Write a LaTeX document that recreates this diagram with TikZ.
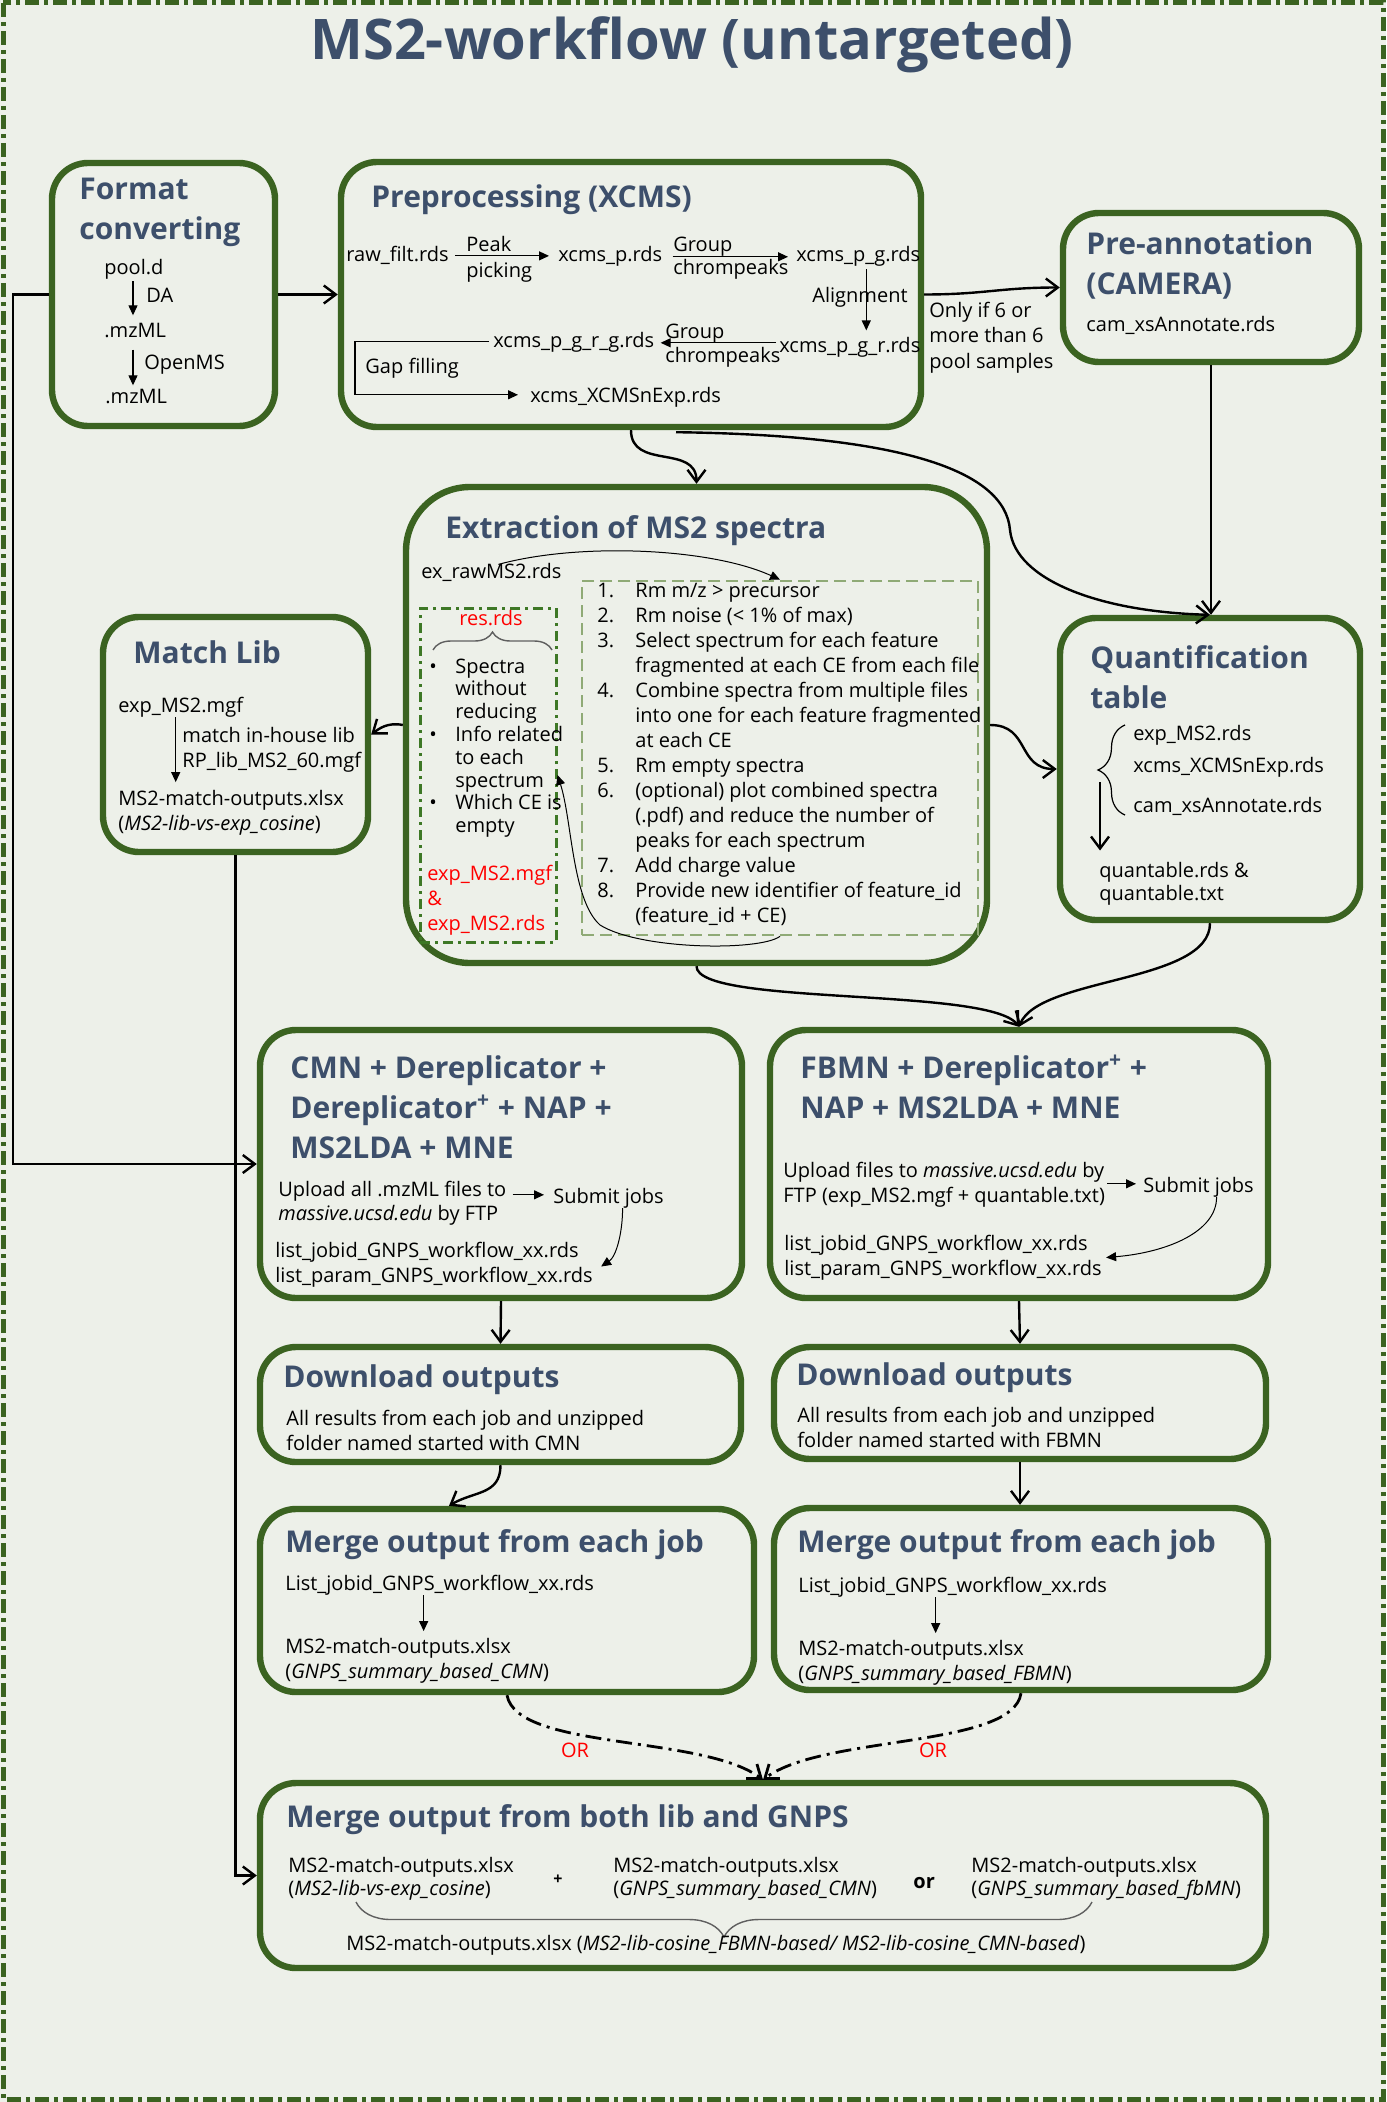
\documentclass[tikz,border=0pt]{standalone}
\usepackage{fontspec}
\setmainfont{Open Sans}
\usepackage{graphicx}
\usetikzlibrary{arrows.meta,fit,decorations.pathreplacing,calc}
\definecolor{bg}{RGB}{237,240,233}
\definecolor{boxgreen}{RGB}{59,99,33}
\definecolor{slate}{RGB}{61,79,107}
\definecolor{resgreen}{RGB}{62,120,38}
\definecolor{listgreen}{RGB}{143,170,118}
\definecolor{bracegrey}{RGB}{95,95,95}
\definecolor{redtxt}{RGB}{255,0,0}
\newcommand{\mlines}[1]{\begin{tabular}[t]{@{}l@{}}#1\end{tabular}}
\tikzset{
  box/.style={draw=boxgreen, line width=3.2pt, rounded corners=18pt, inner sep=0pt},
  ttl/.style={anchor=base west, inner sep=0pt, font=\fontsize{15}{20}\selectfont\bfseries, text=slate},
  txt/.style={anchor=base west, inner sep=0pt, font=\fontsize{10}{12.5}\selectfont},
  conn/.style={line width=1.2pt, -{Straight Barb[length=6pt,width=9pt]}},
  fine/.style={line width=0.6pt, -{Triangle[length=5pt,width=4.5pt]}},
  finecurve/.style={line width=0.5pt, -{Triangle[length=5pt,width=4.5pt]}},
  orline/.style={line width=1.4pt, dash pattern=on 8pt off 3pt on 1.5pt off 3pt, -{Straight Barb[length=6pt,width=9pt]}},
  brc/.style={draw=bracegrey, line width=0.7pt, decorate, decoration={brace, amplitude=#1}},
}
\begin{document}
\begin{tikzpicture}[x=0.5pt,y=-0.5pt]
\useasboundingbox (0,0) rectangle (1386,2102);
\path[fill=bg] (0,0) rectangle (1386,2102);
\draw[boxgreen, line width=2.5pt, dash pattern=on 7pt off 2.5pt on 2pt off 2.5pt] (3,3) rectangle (1383,2099);

\node[anchor=base, inner sep=0pt, font=\fontsize{28}{32}\selectfont\bfseries, text=slate] (title) at (692,60) {MS2-workflow (untargeted)};

% boxes
\node[box, fit={(52,163) (275,426)}] (fc) {};
\node[box, fit={(341,162) (921,427)}] (pre) {};
\node[box, fit={(1063,213) (1359,362)}] (ann) {};
\node[box, rounded corners=32pt, fit={(406,487) (987,963)}] (ext) {};
\node[box, fit={(103,617) (368,852)}] (lib) {};
\node[box, fit={(1060,618) (1360,920)}] (quant) {};
\node[box, fit={(260,1030) (742,1298)}] (cmn) {};
\node[box, fit={(770,1030) (1268,1298)}] (fbmn) {};
\node[box, fit={(260,1347) (741,1462)}] (dlc) {};
\node[box, fit={(774,1347) (1266,1459)}] (dlf) {};
\node[box, fit={(260,1509) (754,1692)}] (mgc) {};
\node[box, fit={(774,1508) (1268,1690)}] (mgf) {};
\node[box, fit={(260,1783) (1266,1968)}] (mgb) {};

% Format converting
\node[ttl] (fct) at (79,200) {\mlines{Format\\converting}};
\node[txt] (fc1) at (104,275) {pool.d};
\node[txt] (fc2) at (104,338) {.mzML};
\node[txt] (fc3) at (105,403) {.mzML};
\node[txt] (fcda) at (146,303) {DA};
\node[txt] (fcom) at (144,370) {OpenMS};
\coordinate (fcx) at (133,0);
\draw[fine] ($(fc1.south -| fcx)+(0,1)$) -- ($(fc2.north -| fcx)+(0,-8)$);
\draw[fine] ($(fc2.south -| fcx)+(0,11)$) -- ($(fc3.north -| fcx)+(0,-3)$);

% Preprocessing
\node[ttl] (pret) at (371,208) {Preprocessing (XCMS)};
\node[txt] (raw) at (346,262) {raw\_filt.rds};
\node[txt] (xp) at (558,262) {xcms\_p.rds};
\node[txt] (xpg) at (796,262) {xcms\_p\_g.rds};
\node[txt] (xpgr) at (779,352) {xcms\_p\_g\_r.rds};
\node[txt] (xpgrg) at (493,348) {xcms\_p\_g\_r\_g.rds};
\node[txt] (xnexp) at (530,402) {xcms\_XCMSnExp.rds};
\node[txt] (lpk1) at (466,252) {Peak};
\node[txt] (lpk2) at (466,278) {picking};
\node[txt] (lg1a) at (673,252) {Group};
\node[txt] (lg1b) at (673,275) {chrompeaks};
\node[txt, anchor=base east] (lal) at (908,303) {Alignment};
\node[txt] (lg2a) at (665,339) {Group};
\node[txt] (lg2b) at (665,363) {chrompeaks};
\node[txt] (lgap) at (365,373) {Gap filling};
\coordinate (gapx) at (355,0);
\draw[fine] ($(raw.east)+(6,0)$) -- ($(raw.east -| xp.west)+(-9,0)$);
\draw[fine] ($(xp.east)+(10,0)$) -- ($(xp.east -| xpg.west)+(-8,0)$);
\draw[fine] ($(xpg.south)+(8,2)$) -- ($(xpg.south |- xpgr.north)+(8,-6)$);
\draw[fine] ($(xpgr.west)+(-3,-4)$) -- ($(xpgr.west -| xpgrg.east)+(6,-4)$);
\draw[fine] ($(xpgrg.west)+(-4,-1)$) -- ($(xpgrg.west -| gapx)+(0,-1)$) -- ($(gapx |- xnexp.west)+(0,-2)$) -- ($(xnexp.west)+(-12,-2)$);

% Pre-annotation
\node[ttl] (annt) at (1086,255) {\mlines{Pre-annotation\\(CAMERA)}};
\node[txt] (cam) at (1086,332) {cam\_xsAnnotate.rds};
\node[txt] (only) at (929,318) {\mlines{Only if 6 or\\more than 6\\pool samples}};

% Extraction
\node[ttl] (extt) at (445,538) {Extraction of MS2 spectra};
\node[txt] (exraw) at (421,578) {ex\_rawMS2.rds};
\node[fit={(420,608) (556,942)}, inner sep=0pt, draw=resgreen, line width=1.5pt, dash pattern=on 5pt off 2.5pt on 1.5pt off 2.5pt] (res) {};
\node[fit={(582,581) (978,935)}, inner sep=0pt, draw=listgreen, line width=1.3pt, dash pattern=on 6pt off 3pt] (lst) {};
\node[txt, anchor=base, text=redtxt] (resname) at (491,625) {res.rds};
\coordinate (rb1) at (433,650);
\coordinate (rb2) at (552,650);
\draw[brc=9pt] (rb1) -- (rb2);
\node[txt, font=\fontsize{10}{11.4}\selectfont] (bul) at (429,673) {\begin{tabular}[t]{@{}p{13pt}@{}l@{}}•&Spectra\\&without\\&reducing\\•&Info related\\&to each\\&spectrum\\•&Which CE is\\&empty\end{tabular}};
\node[txt, text=redtxt] (expout) at (427,880) {\mlines{exp\_MS2.mgf\\\&\\exp\_MS2.rds}};
\node[txt] (steps) at (597,597) {\begin{tabular}[t]{@{}p{19pt}@{}l@{}}1.&Rm m/z > precursor\\2.&Rm noise (< 1\% of max)\\3.&Select spectrum for each feature\\&fragmented at each CE from each file\\4.&Combine spectra from multiple files\\&into one for each feature fragmented\\&at each CE\\5.&Rm empty spectra\\6.&(optional) plot combined spectra\\&(.pdf) and reduce the number of\\&peaks for each spectrum\\7.&Add charge value\\8.&Provide new identifier of feature\_id\\&(feature\_id + CE)\end{tabular}};
\draw[finecurve] ($(exraw.north)+(7,2)$) .. controls +(80,-22) and +(-70,-32) .. (lst.north);
\draw[finecurve] (lst.south) .. controls +(-20,15) and +(40,25) .. (600,925) .. controls (572,900) and (572,820) .. (res.east);

% Match Lib
\node[ttl] (libt) at (133,663) {Match Lib};
\node[txt] (libin) at (118,712) {exp\_MS2.mgf};
\node[txt] (libmid) at (182,742) {\mlines{match in-house lib\\RP\_lib\_MS2\_60.mgf}};
\node[txt] (libout) at (118,805) {\mlines{MS2-match-outputs.xlsx\\(\textit{MS2-lib-vs-exp\_cosine})}};
\draw[fine] ($(libin.south)+(-5,0)$) -- ($(libin.south |- libout.north)+(-5,-5)$);

% Quantification
\node[ttl] (qt) at (1090,668) {\mlines{Quantification\\table}};
\node[txt] (q1) at (1133,740) {exp\_MS2.rds};
\node[txt] (q2) at (1133,772) {xcms\_XCMSnExp.rds};
\node[txt] (q3) at (1133,812) {cam\_xsAnnotate.rds};
\node[txt, font=\fontsize{10}{11.5}\selectfont] (qout) at (1099,877) {\mlines{quantable.rds \&\\quantable.txt}};
\coordinate (qb1) at (1125,815);
\coordinate (qb2) at (1125,725);
\draw[brc=13.5pt, draw=black, line width=0.6pt] (qb1) -- (qb2);
\coordinate (qarr) at (1100,782);
\draw[conn] (qarr) -- ($(qarr |- qout.north)+(0,-10)$);

% CMN box
\node[ttl] (cmnt) at (290,1078) {\mlines{CMN + Dereplicator +\\Dereplicator\textsuperscript{+} + NAP +\\MS2LDA + MNE}};
\node[txt, font=\fontsize{10}{12}\selectfont] (cmnup) at (278,1196) {\mlines{Upload all .mzML files to\\\textit{massive.ucsd.edu} by FTP}};
\node[txt] (cmnsub) at (553,1203) {Submit jobs};
\node[txt] (cmnlist) at (275,1257) {\mlines{list\_jobid\_GNPS\_workflow\_xx.rds\\list\_param\_GNPS\_workflow\_xx.rds}};
\draw[fine] ($(cmnup.east |- cmnsub.west)+(6,-3)$) -- ($(cmnsub.west)+(-9,-3)$);
\draw[finecurve] ($(cmnsub.south)+(14,0)$) .. controls +(0,25) and +(15,-10) .. ($(cmnlist.east)+(8,2)$);

% FBMN box
\node[ttl] (fbmnt) at (800,1078) {\mlines{FBMN + Dereplicator\textsuperscript{+} +\\NAP + MS2LDA + MNE}};
\node[txt] (fbmnup) at (783,1177) {\mlines{Upload files to \textit{massive.ucsd.edu} by\\FTP (exp\_MS2.mgf + quantable.txt)}};
\node[txt] (fbmnsub) at (1143,1192) {Submit jobs};
\node[txt] (fbmnlist) at (784,1250) {\mlines{list\_jobid\_GNPS\_workflow\_xx.rds\\list\_param\_GNPS\_workflow\_xx.rds}};
\draw[fine] ($(fbmnup.east |- fbmnsub.west)+(2,-3)$) -- ($(fbmnsub.west)+(-7,-3)$);
\draw[finecurve] ($(fbmnsub.south)+(18,0)$) .. controls +(0,35) and +(60,-5) .. ($(fbmnlist.east)+(4,0)$);

% Download boxes
\node[ttl] (dlct) at (283,1387) {Download outputs};
\node[txt] (dlcb) at (286,1425) {\mlines{All results from each job and unzipped\\folder named started with CMN}};
\node[ttl] (dlft) at (796,1385) {Download outputs};
\node[txt] (dlfb) at (797,1422) {\mlines{All results from each job and unzipped\\folder named started with FBMN}};

% Merge each job
\node[ttl] (mgct) at (285,1552) {Merge output from each job};
\node[txt] (mgcl) at (285,1590) {List\_jobid\_GNPS\_workflow\_xx.rds};
\node[txt] (mgco) at (285,1653) {\mlines{MS2-match-outputs.xlsx\\(\textit{GNPS\_summary\_based\_CMN})}};
\draw[fine] ($(mgcl.south)+(-16,0)$) -- ($(mgcl.south |- mgco.north)+(-16,-4)$);
\node[ttl] (mgft) at (797,1552) {Merge output from each job};
\node[txt] (mgfl) at (798,1592) {List\_jobid\_GNPS\_workflow\_xx.rds};
\node[txt] (mgfo) at (798,1655) {\mlines{MS2-match-outputs.xlsx\\(\textit{GNPS\_summary\_based\_FBMN})}};
\draw[fine] ($(mgfl.south)+(-17,0)$) -- ($(mgfl.south |- mgfo.north)+(-17,-4)$);

% Merge both
\node[ttl] (mgbt) at (286,1827) {Merge output from both lib and GNPS};
\node[txt, font=\fontsize{10}{11.6}\selectfont] (mb1) at (288,1872) {\mlines{MS2-match-outputs.xlsx\\(\textit{MS2-lib-vs-exp\_cosine})}};
\node[inner sep=0pt, font=\fontsize{8}{10}\selectfont\bfseries] (plus) at (558,1880) {+};
\node[txt, font=\fontsize{10}{11.6}\selectfont] (mb2) at (613,1872) {\mlines{MS2-match-outputs.xlsx\\(\textit{GNPS\_summary\_based\_CMN})}};
\node[txt, font=\fontsize{10}{12}\selectfont\bfseries] (orw) at (913,1888) {or};
\node[txt, font=\fontsize{10}{11.6}\selectfont] (mb3) at (971,1872) {\mlines{MS2-match-outputs.xlsx\\(\textit{GNPS\_summary\_based\_fbMN})}};
\coordinate (mbb1) at (1092,1902);
\coordinate (mbb2) at (356,1902);
\draw[brc=17.5pt] (mbb1) -- (mbb2);
\node[txt] (mbres) at (346,1950) {MS2-match-outputs.xlsx (\textit{MS2-lib-cosine\_FBMN-based/ MS2-lib-cosine\_CMN-based})};

% OR labels
\node[inner sep=0pt, text=redtxt, font=\fontsize{10}{12}\selectfont] (or1) at (575,1750) {OR};
\node[inner sep=0pt, text=redtxt, font=\fontsize{10}{12}\selectfont] (or2) at (933,1750) {OR};

% connectors
\draw[conn] (fc.east) -- (pre.west |- fc.east);
\draw[conn] (pre.east) .. controls +(60,0) and +(-60,0) .. (ann.west);
\draw[conn] (fc.west) -- ++(-36,0) |- (cmn.west);
\draw[conn] (pre.south) .. controls +(0,40) and +(0,-40) .. (ext.north);
\draw[conn] ($(pre.south)+(45,2)$) .. controls (900,435) and (1005,470) .. (1010,530) .. controls (1015,580) and (1100,612) .. (quant.north);
\draw[conn] (ann.south) -- (ann.south |- quant.north);
\draw[conn] (ext.west) .. controls +(-15,-3) and +(8,-6) .. (lib.east);
\draw[conn] (ext.east) .. controls +(40,0) and +(-40,0) .. (quant.west);
\draw[conn] (quant.south) .. controls +(0,60) and +(20,-50) .. (fbmn.north);
\draw[conn] (ext.south) .. controls +(0,40) and +(-30,-40) .. (fbmn.north);
\draw[conn] (lib.south) |- (mgb.west);
\draw[conn] (cmn.south) -- (dlc.north);
\draw[conn] (fbmn.south) -- (dlf.north);
\draw[conn] (dlc.south) .. controls +(0,30) and +(25,-15) .. ($(mgc.north)+(-58,0)$);
\draw[conn] (dlf.south) -- (dlf.south |- mgf.north);
\draw[orline] (mgc.south) .. controls +(10,55) and +(-60,-45) .. (mgb.north);
\draw[orline] (mgf.south) .. controls +(-8,55) and +(60,-45) .. (mgb.north);
\end{tikzpicture}
\end{document}
